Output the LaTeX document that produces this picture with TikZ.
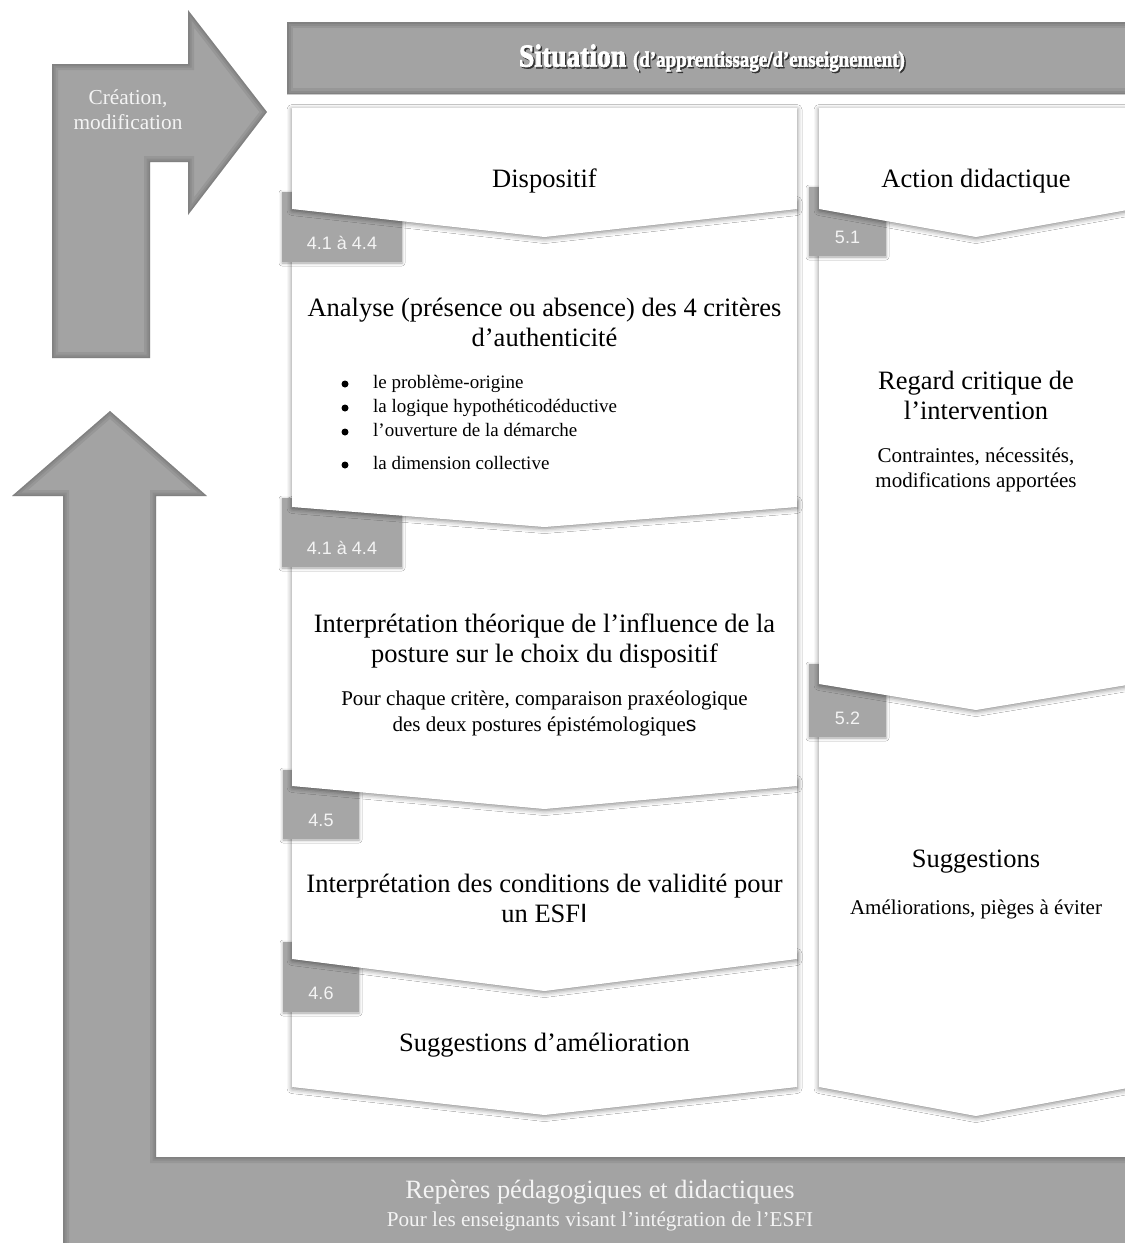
\documentclass[tikz,border=0pt]{standalone}
\usepackage{fontspec}
\setmainfont{Liberation Serif}
\newfontfamily\arialf{Liberation Sans}
\newfontfamily\heavyserif[FakeBold=2.5]{Liberation Serif Bold}
\usetikzlibrary{shadows.blur}

\definecolor{arrowgray}{RGB}{163,163,163}
\definecolor{tabgray}{RGB}{166,166,166}
\definecolor{lighttext}{RGB}{244,244,244}

\tikzset{
  whitebox/.style={fill=white, blur shadow={shadow xshift=0pt, shadow yshift=-1.5pt, shadow blur radius=5pt, shadow opacity=50}},
  tabbox/.style={fill=tabgray, blur shadow={shadow xshift=0pt, shadow yshift=-1pt, shadow blur radius=3pt, shadow opacity=35}},
  grayshape/.style={fill=arrowgray},
  headtxt/.style={font=\fontsize{26.5}{30}\selectfont, align=center, inner sep=0pt},
  subtxt/.style={font=\fontsize{21}{26.5}\selectfont, align=center, inner sep=0pt},
  bullettxt/.style={font=\fontsize{19}{24}\selectfont, inner sep=0pt, anchor=base west},
  bulletdot/.style={circle, fill=black, inner sep=0pt, minimum size=7pt},
  tablabel/.style={font=\arialf\fontsize{18}{20}\selectfont, text=lighttext, inner sep=0pt},
  lighttxt/.style={text=lighttext, align=center, inner sep=0pt}
}

\newcommand{\innershade}[1]{%
  \begin{scope}
    \clip #1;
    \draw[line width=12pt, black, opacity=0.07] #1;
    \draw[line width=7pt, black, opacity=0.07] #1;
    \draw[line width=3pt, black, opacity=0.08] #1;
  \end{scope}}

% chevron: x1, x2, top, sides, tip
\newcommand{\chevbox}[5]{%
  \path[whitebox] (#1,#3) -- (#2,#3) -- (#2,#4) -- ({(#1+#2)/2},#5) -- (#1,#4) -- cycle;}

% tab: name, x1, x2, y1, y2, label
\newcommand{\tabrect}[6]{%
  \path[tabbox] (#2,#4) rectangle (#3,#5);
  \node[tablabel] (#1) at ({(#2+#3)/2},#5-19) {#6};}

\def\bentpath{(52,358) -- (52,64) -- (188,64) -- (188,10) -- (267,112) -- (188,215) -- (188,162) -- (150,162) -- (150,358) -- cycle}
\def\ellpath{(63,1250) -- (63,496) -- (12,496) -- (110,411) -- (207,496) -- (156,496) -- (156,1157) -- (1140,1157) -- (1140,1250) -- cycle}
\def\bannerpath{(287,22) -- (1140,22) -- (1140,94) -- (287,94) -- cycle}

\newcommand{\situationtext}{\heavyserif\fontsize{32}{34}\selectfont Situation \fontsize{22}{24}\selectfont(d’apprentissage/d’enseignement)}

\begin{document}
\begin{tikzpicture}[x=1pt,y=-1pt]
\useasboundingbox (0,0) rectangle (1125,1243);
\clip (0,0) rectangle (1125,1243);
\fill[white] (0,0) rectangle (1125,1243);

% big gray shapes
\fill[grayshape] \bentpath;
\innershade{\bentpath}
\fill[grayshape] \ellpath;
\innershade{\ellpath}
\fill[grayshape] \bannerpath;
\innershade{\bannerpath}

% texts on gray shapes
\node[lighttxt, font=\fontsize{21.3}{25}\selectfont] (crea) at (128,110) {Création,\\modification};
\node[lighttxt, font=\fontsize{26.4}{28}\selectfont] (reperes) at (600,1192) {Repères pédagogiques et didactiques};
\node[lighttxt, font=\fontsize{21.2}{24}\selectfont] (pour) at (600,1221) {Pour les enseignants visant l’intégration de l’ESFI};

\node[text=black!80, inner sep=0pt, xscale=0.86] (situationshadow) at (713.5,59.5) {\situationtext};
\node[text=white, inner sep=0pt, xscale=0.86] (situation) at (712,58) {\situationtext};

% ---------- left column (drawn bottom to top) ----------
\chevbox{292}{797}{952}{1087}{1115}
\tabrect{t46}{283}{359}{942}{1012}{4.6}
\chevbox{292}{797}{779}{959}{991}
\tabrect{t45}{283}{359}{770}{839}{4.5}
\chevbox{292}{797}{500}{786}{809}
\tabrect{t44b}{282}{402}{498}{567}{4.1 à 4.4}
\chevbox{292}{797}{200}{507}{527}
\tabrect{t44a}{282}{402}{192}{262}{4.1 à 4.4}
\chevbox{292}{797}{108}{209}{237}

% ---------- right column ----------
\chevbox{819}{1133}{676}{1087}{1116}
\tabrect{t52}{809}{886}{664}{737}{5.2}
\chevbox{819}{1133}{200}{684}{710}
\tabrect{t51}{809}{886}{187}{256}{5.1}
\chevbox{819}{1133}{108}{209}{237}

% ---------- left column texts ----------
\node[headtxt] (dispositif) at (544.5,181) {Dispositif};
\node[headtxt] (analyse) at (544.5,322) {Analyse (présence ou absence) des 4 critères\\d’authenticité};
\foreach \yy/\tt [count=\i] in {383/le problème-origine, 407/la logique hypothéticodéductive, 431/l’ouverture de la démarche, 464/la dimension collective}{
  \node[bulletdot] (bul\i) at (345,\yy+1) {};
  \node[bullettxt] (item\i) at (373,\yy+5.5) {\tt};
}
\node[headtxt] (interp) at (544.5,641) {Interprétation théorique de l’influence de la\\posture sur le choix du dispositif};
\node[subtxt] (pourchaque) at (544.5,713.5) {Pour chaque critère, comparaison praxéologique\\des deux postures épistémologique{\arialf s}};
\node[headtxt] (validite) at (544.5,898.5) {Interprétation des conditions de validité pour\\un ESF{\arialf I}};
\node[headtxt] (suggam) at (544.5,1045) {Suggestions d’amélioration};

% ---------- right column texts ----------
\node[headtxt] (action) at (976,181) {Action didactique};
\node[headtxt] (regard) at (976,395.5) {Regard critique de\\l’intervention};
\node[subtxt, font=\fontsize{21}{25}\selectfont] (contraintes) at (976,469.5) {Contraintes, nécessités,\\modifications apportées};
\node[headtxt] (suggestions) at (976,862) {Suggestions};
\node[subtxt] (ameliorations) at (976,909) {Améliorations, pièges à éviter};
\end{tikzpicture}
\end{document}
